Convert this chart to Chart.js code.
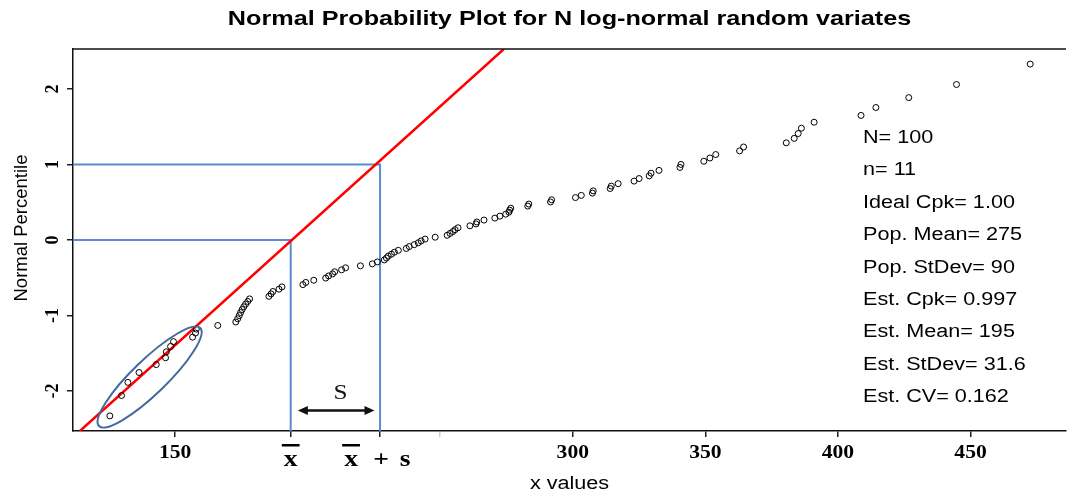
<!DOCTYPE html>
<html>
<head>
<meta charset="utf-8">
<title>Normal Probability Plot</title>
<script src="https://cdn.jsdelivr.net/npm/chart.js@4.4.1/dist/chart.umd.min.js"></script>
<style>
  html, body { margin: 0; padding: 0; background: #fff; }
</style>
</head>
<body>
<canvas id="npp" width="1071" height="495"></canvas>
<script>
// ranked sample values (x) and their normal scores (z)
const xValues = [
  125.4, 129.8, 132.2, 136.4, 142.9, 146.4, 146.7, 148.3, 149.4, 156.6,
  157.7, 158.0, 166.1, 172.9, 173.6, 174.2, 174.7, 175.3, 175.9, 176.6,
  177.4, 178.1, 185.4, 186.2, 186.9, 189.2, 190.3, 198.2, 199.3, 202.3,
  206.8, 207.9, 209.4, 210.2, 212.8, 214.3, 219.9, 224.4, 226.3, 228.9,
  229.7, 230.4, 231.6, 232.7, 234.2, 237.2, 238.3, 240.2, 241.7, 242.8,
  244.3, 248.1, 252.6, 253.7, 254.8, 255.6, 256.7, 261.2, 263.5, 263.8,
  266.5, 270.6, 272.5, 274.7, 275.9, 276.2, 276.6, 283.0, 283.4, 291.6,
  292.0, 301.0, 303.2, 307.4, 307.7, 314.1, 314.5, 317.1, 323.1, 325.0,
  328.8, 329.5, 332.5, 340.4, 340.8, 349.4, 351.7, 353.9, 362.9, 364.4,
  380.5, 383.5, 385.0, 386.2, 391.0, 408.7, 414.3, 426.7, 444.7, 472.5
];
const zValues = [
  -2.33, -2.06, -1.886, -1.755, -1.65, -1.56, -1.481, -1.41, -1.346, -1.287,
  -1.232, -1.18, -1.132, -1.086, -1.043, -1.001, -0.961, -0.922, -0.885, -0.849,
  -0.814, -0.78, -0.746, -0.714, -0.682, -0.651, -0.621, -0.591, -0.562, -0.533,
  -0.504, -0.476, -0.449, -0.421, -0.395, -0.368, -0.342, -0.316, -0.29, -0.264,
  -0.239, -0.213, -0.188, -0.162, -0.137, -0.112, -0.087, -0.062, -0.037, -0.012,
  0.012, 0.037, 0.062, 0.087, 0.112, 0.137, 0.162, 0.188, 0.213, 0.239,
  0.264, 0.29, 0.316, 0.342, 0.368, 0.395, 0.421, 0.449, 0.476, 0.504,
  0.533, 0.562, 0.591, 0.621, 0.651, 0.682, 0.714, 0.746, 0.78, 0.814,
  0.849, 0.885, 0.922, 0.961, 1.001, 1.043, 1.086, 1.132, 1.18, 1.232,
  1.287, 1.346, 1.41, 1.481, 1.56, 1.65, 1.755, 1.886, 2.06, 2.33
];

// fitted line (ends) and the mean / mean+s guides
const fitLineX = [114.1, 274.0];
const fitLineZ = [-2.53, 2.53];
const meanX = 193.6;
const meanPlusSX = 227.3;

// axes
const xRange = [111.5, 486.0];
const zRange = [-2.53, 2.53];
const xTicks = [150, meanX, meanPlusSX, 250, 300, 350, 400, 450];
const xTickLabels = ['150', 'x', 'x', '', '300', '350', '400', '450'];
const xTickSuffix = ['', '', '+ s', '', '', '', '', ''];
const yTicks = [-2, -1, 0, 1, 2];
const yTickLabels = ['-2', '-1', '0', '1', '2'];

const statLines = [
  'N= 100', 'n= 11', 'Ideal Cpk= 1.00', 'Pop. Mean= 275', 'Pop. StDev= 90',
  'Est. Cpk= 0.997', 'Est. Mean= 195', 'Est. StDev= 31.6', 'Est. CV= 0.162'
];

const SANS = '"Liberation Sans", Arial, sans-serif';
const SERIF = '"Liberation Serif", "Times New Roman", serif';
const SX = 1.2; // the reference is drawn a bit wide

function wideText(ctx, text, x, y, align) {
  ctx.save();
  ctx.translate(x, y);
  ctx.scale(SX, 1);
  ctx.textAlign = align || 'left';
  ctx.fillText(text, 0, 0);
  ctx.restore();
}

const overlay = {
  id: 'overlay',
  afterDatasetsDraw(chart) {
    const {ctx, chartArea: a, scales: {x, y}} = chart;
    ctx.save();

    // ellipse round the lowest n points
    const c = {x: x.getPixelForValue(140.4), y: y.getPixelForValue(-1.815)};
    const tip = {x: x.getPixelForValue(159.5), y: y.getPixelForValue(-1.166)};
    const ang = Math.atan2(tip.y - c.y, tip.x - c.x);
    const ra = Math.hypot(tip.x - c.x, tip.y - c.y);
    ctx.beginPath();
    ctx.ellipse(c.x, c.y, ra, 17, ang, 0, Math.PI * 2);
    ctx.strokeStyle = '#3f6a9e';
    ctx.lineWidth = 2;
    ctx.stroke();

    // S arrow
    const ay = y.getPixelForValue(-2.26);
    const ax1 = x.getPixelForValue(196.3), ax2 = x.getPixelForValue(225.2);
    ctx.strokeStyle = '#111';
    ctx.fillStyle = '#111';
    ctx.lineWidth = 2.5;
    ctx.beginPath();
    ctx.moveTo(ax1 + 6, ay);
    ctx.lineTo(ax2 - 6, ay);
    ctx.stroke();
    [[ax1, 1], [ax2, -1]].forEach(([px, d]) => {
      ctx.beginPath();
      ctx.moveTo(px, ay);
      ctx.lineTo(px + 10 * d, ay - 4.5);
      ctx.lineTo(px + 10 * d, ay + 4.5);
      ctx.closePath();
      ctx.fill();
    });
    ctx.font = '21px ' + SERIF;
    ctx.textBaseline = 'middle';
    wideText(ctx, 'S', x.getPixelForValue(212.4), y.getPixelForValue(-2.03), 'center');

    // top frame line
    ctx.strokeStyle = '#111';
    ctx.lineWidth = 1.5;
    ctx.beginPath();
    ctx.moveTo(a.left, a.top);
    ctx.lineTo(a.right, a.top);
    ctx.stroke();
    ctx.restore();
  },
  afterDraw(chart) {
    const {ctx, chartArea: a, scales: {x, y}} = chart;
    ctx.save();
    ctx.fillStyle = '#000';
    ctx.textBaseline = 'middle';

    // title
    ctx.font = 'bold 21px ' + SANS;
    wideText(ctx, 'Normal Probability Plot for N log-normal random variates', (a.left + a.right) / 2, 19, 'center');

    // x tick labels
    xTicks.forEach((v, i) => {
      const px = x.getPixelForValue(v);
      if (xTickLabels[i] === 'x') {
        ctx.font = 'bold 23px ' + SERIF;
        const wx = ctx.measureText('x').width * SX;
        const xc = xTickSuffix[i] ? px - 29 : px;
        wideText(ctx, 'x', xc, 460, 'center');
        ctx.fillRect(xc - wx / 2 - 2, 444, wx + 4, 2.5);
        if (xTickSuffix[i]) {
          const [plus, s] = xTickSuffix[i].split(' ');
          wideText(ctx, plus, px + 1, 460, 'center');
          wideText(ctx, s, px + 25, 460, 'center');
        }
      } else if (xTickLabels[i]) {
        ctx.font = 'bold 18px ' + SERIF;
        wideText(ctx, xTickLabels[i], px, 453, 'center');
      }
    });
    ctx.font = '18px ' + SANS;
    wideText(ctx, 'x values', (a.left + a.right) / 2, 484, 'center');

    // y tick labels and title (rotated)
    yTicks.forEach((v, i) => {
      ctx.save();
      ctx.translate(53, y.getPixelForValue(v));
      ctx.rotate(-Math.PI / 2);
      ctx.font = 'bold 18px ' + SERIF;
      ctx.textAlign = 'center';
      ctx.fillText(yTickLabels[i], 0, 0);
      ctx.restore();
    });
    ctx.save();
    ctx.translate(22, (a.top + a.bottom) / 2 - 12);
    ctx.rotate(-Math.PI / 2);
    ctx.font = '18.5px ' + SANS;
    ctx.textAlign = 'center';
    ctx.fillText('Normal Percentile', 0, 0);
    ctx.restore();

    // statistics block
    ctx.font = '18px ' + SANS;
    statLines.forEach((t, i) => wideText(ctx, t, 863, 138 + i * 32.4, 'left'));
    ctx.restore();
  }
};

const points = xValues.map((v, i) => ({x: v, y: zValues[i]}));
const fitLine = fitLineX.map((v, i) => ({x: v, y: fitLineZ[i]}));
const meanGuide = [{x: xRange[0], y: 0}, {x: meanX, y: 0}, {x: meanX, y: zRange[0]}];
const sGuide = [{x: xRange[0], y: 1}, {x: meanPlusSX, y: 1}, {x: meanPlusSX, y: zRange[0]}];

new Chart(document.getElementById('npp'), {
  type: 'scatter',
  data: {
    datasets: [
      {
        data: points,
        pointStyle: 'circle',
        pointRadius: 3,
        borderWidth: 1,
        borderColor: '#000',
        backgroundColor: 'rgba(0,0,0,0)'
      },
      {
        data: fitLine,
        showLine: true,
        pointRadius: 0,
        borderColor: '#ff0000',
        borderWidth: 2.5
      },
      {
        data: meanGuide,
        showLine: true,
        pointRadius: 0,
        borderColor: '#5b8bd0',
        borderWidth: 2
      },
      {
        data: sGuide,
        showLine: true,
        pointRadius: 0,
        borderColor: '#5b8bd0',
        borderWidth: 2
      }
    ]
  },
  options: {
    responsive: false,
    animation: false,
    layout: {padding: {top: 49, right: 0, bottom: 0, left: 0}},
    plugins: {
      legend: {display: false},
      title: {display: false},
      tooltip: {enabled: false}
    },
    scales: {
      x: {
        type: 'linear',
        min: xRange[0],
        max: xRange[1],
        afterBuildTicks: s => { s.ticks = xTicks.map(v => ({value: v})); },
        afterFit: s => { s.height = 64; },
        ticks: {display: true, autoSkip: false, maxRotation: 0, callback: () => ''},
        grid: {
          drawOnChartArea: false,
          drawTicks: true,
          tickLength: 6,
          lineWidth: 1.5,
          color: c => (c.tick && c.tick.value === 250 ? '#cfcfcf' : '#222')
        },
        border: {display: true, color: '#111', width: 1.5}
      },
      y: {
        type: 'linear',
        min: zRange[0],
        max: zRange[1],
        afterBuildTicks: s => { s.ticks = yTicks.map(v => ({value: v})); },
        afterFit: s => { s.width = 73; },
        ticks: {display: true, callback: () => ''},
        grid: {
          drawOnChartArea: false,
          drawTicks: true,
          tickLength: 6,
          lineWidth: 1.5,
          color: '#222'
        },
        border: {display: true, color: '#111', width: 1.5}
      }
    }
  },
  plugins: [overlay]
});
</script>
</body>
</html>
